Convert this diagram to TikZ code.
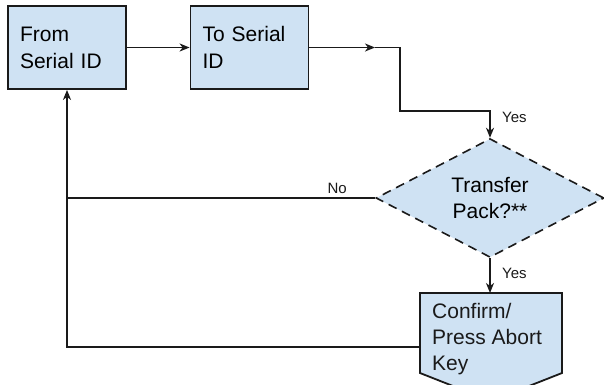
\documentclass[tikz,border=0pt]{standalone}
\definecolor{PaleBlue}{HTML}{CFE2F3}
\definecolor{EdgeGray}{HTML}{1A1A1A}
\usepackage{fontspec}
\setmainfont{Liberation Sans}
\usepackage{tikz}
\usetikzlibrary{arrows.meta, positioning, calc, shapes.geometric}

\begin{document}
\begin{tikzpicture}[x=1pt, y=-1pt,
    box/.style={draw=EdgeGray, fill=PaleBlue, line width=1.8pt, minimum width=118pt,
                minimum height=83pt, text width=94pt, inner xsep=12pt, align=left,
                font=\fontsize{21}{27}\selectfont},
    decision/.style={diamond, draw=EdgeGray, fill=PaleBlue, line width=1.6pt,
                     dash pattern=on 9pt off 6pt, minimum width=228pt, minimum height=110pt,
                     inner sep=0pt, align=center, font=\fontsize{21}{26}\selectfont},
    link/.style={draw=EdgeGray, line width=1.6pt},
    arr/.style={link, -{Stealth[length=10pt, width=8pt, inset=3pt]}},
    lbl/.style={font=\fontsize{15}{18}\selectfont, text=EdgeGray, inner sep=0pt}]
  \clip (0,0) rectangle (604,384);

  % top row
  \node[box] (from) at (67,47.5) {From\\Serial ID};
  \node[box] (to) at (249.5,47.5) {To Serial\\ID};
  \node[decision] (transfer) at (490,198) {Transfer\\Pack?**};

  % confirm shape with pointed bottom
  \coordinate (cf) at (491,347);
  \filldraw[draw=EdgeGray, fill=PaleBlue, line width=1.8pt, line join=miter]
    ($(cf)+(-71,-54)$) -- ++(142,0) -- ++(0,80) -- ($(cf)+(0,54)$)
    -- ($(cf)+(-71,26)$) -- cycle;
  \node[anchor=north west, align=left, inner sep=0pt, text=EdgeGray,
        font=\fontsize{21}{26}\selectfont] (confirm) at ($(cf)+(-59,-44)$)
        {Confirm/\\Press Abort\\Key};

  % connectors
  \coordinate (midA) at (375,47.5);
  \coordinate (bendA) at (400,111);
  \coordinate (cftop) at ($(cf)+(-1,-54)$);
  \draw[arr] (from.east) -- (to.west);
  \draw[arr] (to.east) -- (midA);
  \draw[arr] (midA) -- (midA -| bendA) -- (bendA) -- (bendA -| transfer.north) -- (transfer.north);
  \node[lbl, anchor=west] (yesA) at ($(bendA -| transfer.north)+(12,6)$) {Yes};

  \draw[arr] (transfer.south) -- (cftop);
  \node[lbl, anchor=west] (yesB) at ($(transfer.south)!0.45!(cftop)+(12,0)$) {Yes};

  \draw[link] (transfer.west) -- (transfer.west -| from.south);
  \node[lbl, anchor=south] (no) at ($(transfer.west)+(-38,-4)$) {No};
  \draw[arr] ($(cf)+(-71,0)$) -- (cf -| from.south) -- (from.south);
\end{tikzpicture}
\end{document}
